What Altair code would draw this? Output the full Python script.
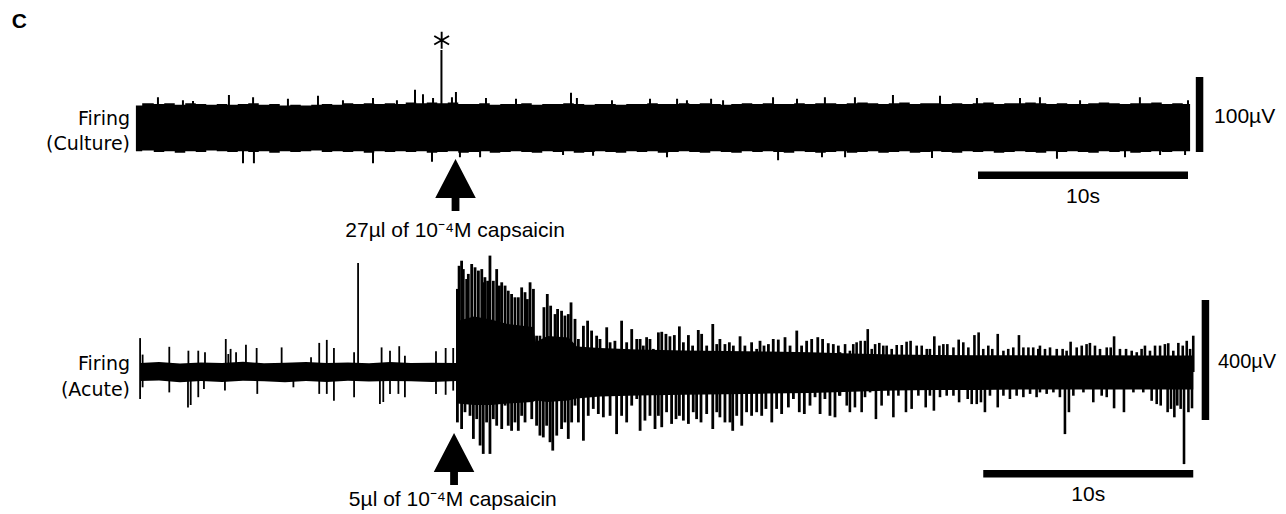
import altair as alt
import pandas as pd

# ---------------- values (time in s, amplitude in µV) ----------------
# Top trace (culture): envelope of the dense noise band
TOP_ENV_T = [-0.1, 0.5, 1.0, 1.5, 2.0, 2.5, 3.0, 3.5, 4.0, 4.5,
             5.0, 5.5, 6.0, 6.5, 7.0, 7.5, 8.0, 8.5, 9.0, 9.5,
             10.0, 10.5, 11.0, 11.5, 12.0, 12.5, 13.0, 13.5, 14.0, 14.5,
             15.0, 15.5, 16.0, 16.5, 17.0, 17.5, 18.0, 18.5, 19.0, 19.5,
             20.0, 20.5, 21.0, 21.5, 22.0, 22.5, 23.0, 23.5, 24.0, 24.5,
             25.0, 25.5, 26.0, 26.5, 27.0, 27.5, 28.0, 28.5, 29.0, 29.5,
             30.0, 30.5, 31.0, 31.5, 32.0, 32.5, 33.0, 33.5, 34.0, 34.5,
             35.0, 35.5, 36.0, 36.5, 37.0, 37.5, 38.0, 38.5, 39.0, 39.5,
             40.0, 40.5, 41.0, 41.5, 42.0, 42.5, 43.0, 43.5, 44.0, 44.5,
             45.0, 45.5, 46.0, 46.5, 47.0, 47.5, 48.0, 48.5, 49.0, 49.5,
             50.0, 50.1]
TOP_ENV_HI = [28, 31, 30, 31, 29, 31, 30, 29, 30, 29,
              30, 31, 29, 30, 28, 29, 28, 29, 30, 29,
              31, 30, 31, 30, 31, 30, 32, 31, 32, 31,
              32, 30, 30, 31, 29, 30, 30, 31, 29, 30,
              30, 31, 30, 29, 30, 30, 29, 30, 30, 31,
              30, 30, 31, 30, 31, 30, 29, 30, 31, 30,
              31, 30, 30, 31, 30, 31, 31, 30, 31, 32,
              31, 30, 31, 32, 30, 31, 31, 30, 31, 30,
              31, 32, 30, 31, 31, 32, 31, 30, 31, 30,
              30, 31, 32, 31, 30, 31, 31, 32, 30, 31,
              30, 30]
TOP_ENV_LO = [-33, -32, -34, -33, -35, -33, -34, -32, -33, -34,
              -33, -34, -33, -35, -33, -34, -33, -32, -34, -33,
              -34, -33, -35, -33, -34, -33, -34, -33, -35, -34,
              -33, -35, -34, -33, -35, -34, -33, -34, -35, -33,
              -34, -33, -35, -34, -33, -34, -35, -33, -34, -33,
              -35, -34, -33, -34, -35, -33, -34, -35, -33, -34,
              -33, -34, -35, -33, -34, -35, -34, -33, -35, -34,
              -33, -35, -34, -33, -35, -34, -33, -34, -35, -33,
              -34, -33, -35, -34, -33, -34, -35, -33, -34, -33,
              -34, -35, -33, -34, -33, -35, -34, -33, -34, -33,
              -33, -33]
# Top trace: individual spikes (t, µV)
TOP_UP = [(0.95, 39), (2.14, 35), (2.62, 34), (4.33, 42), (5.48, 39), (7.14, 37),
          (8.57, 41), (9.76, 35), (11.19, 38), (12.33, 35), (13.19, 49), (13.57, 43),
          (14.05, 38), (14.45, 102), (14.95, 39), (15.14, 46), (16.57, 38), (18.0, 37),
          (20.62, 45), (20.9, 38), (22.57, 35), (24.38, 37), (25.67, 37), (26.14, 35),
          (27.29, 37), (27.86, 35), (30.24, 39), (31.38, 37), (32.71, 39), (34.14, 39),
          (35.95, 42), (38.19, 41), (39.95, 38), (42.0, 38), (42.95, 39), (44.86, 35),
          (47.71, 39), (50.0, 35)]
TOP_DOWN = [(5.0, -49), (5.52, -49), (11.19, -49), (14.0, -47), (15.33, -41), (16.29, -41),
            (20.24, -38), (21.67, -39), (25.19, -41), (30.48, -45), (32.57, -41), (33.67, -41),
            (37.81, -42), (43.76, -43), (47.0, -41), (48.67, -38), (49.86, -38)]

# Bottom trace (acute): solid core band (t, upper, lower)
BOT_CORE = [(0.1, 30, -30), (1, 33, -28), (2, 28, -34), (3, 32, -30), (4, 30, -33),
            (5, 34, -29), (6, 29, -31), (7, 31, -34), (8, 33, -30), (9, 30, -33),
            (10, 32, -29), (11, 29, -32), (12, 33, -30), (13, 30, -31), (14, 31, -33),
            (15.17, 30, -30), (15.2, 170, -105), (16.0, 185, -110), (16.8, 175, -110),
            (17.6, 160, -105), (18.8, 150, -100), (18.95, 100, -95), (19.5, 120, -100),
            (20.5, 115, -95), (20.9, 85, -88), (22.0, 80, -82), (23.8, 75, -78),
            (26, 72, -76), (28, 70, -74), (30, 68, -72), (32, 66, -70), (34, 62, -66),
            (36, 58, -62), (38, 57, -60), (40, 56, -60), (42, 56, -58), (44, 55, -58),
            (46, 56, -58), (48, 55, -58), (50.25, 55, -58)]
# Bottom trace: upward spikes (t, µV)
BOT_UP_PRE = [(0.1, 113), (0.22, 58), (1.49, 84), (2.40, 71), (2.87, 71), (3.19, 66), (4.18, 110),
              (4.30, 60), (4.41, 77), (4.67, 66), (5.14, 91), (5.65, 80), (6.84, 82), (8.24, 49),
              (8.63, 97), (8.99, 107), (9.33, 80), (10.29, 66), (10.48, 363), (11.60, 82),
              (12.0, 71), (12.44, 86), (12.71, 54), (14.19, 69), (14.65, 80), (15.01, 80)]
BOT_UP_BURST = [(15.21, 277), (15.29, 354), (15.41, 371), (15.49, 343), (15.65, 310), (15.73, 327),
                (15.89, 360), (16.05, 349), (16.21, 338), (16.37, 343), (16.44, 299), (16.52, 316),
                (16.65, 304), (16.76, 388), (16.92, 304), (17.08, 343), (17.21, 288), (17.32, 299),
                (17.48, 288), (17.63, 271), (17.79, 260), (17.95, 249), (18.11, 249), (18.27, 282),
                (18.43, 266), (18.54, 243), (18.67, 299), (18.83, 277), (18.98, 121), (19.14, 121),
                (19.33, 216), (19.49, 260), (19.65, 221), (19.86, 193), (19.98, 210), (20.17, 204),
                (20.33, 188), (20.49, 193), (20.62, 232), (20.81, 177), (20.97, 110), (21.21, 154),
                (21.41, 171), (21.60, 138), (21.84, 121), (22.00, 110), (22.32, 149), (22.48, 99),
                (22.71, 104), (23.03, 171), (23.27, 99), (23.51, 143), (23.75, 110)]
BOT_UP_MID = [(23.91, 110), (24.06, 88), (24.22, 116), (24.38, 110), (24.54, 77), (24.78, 132),
              (24.94, 134), (25.14, 127), (25.33, 119), (25.54, 123), (25.78, 152), (25.97, 99),
              (26.21, 123), (26.41, 88), (26.68, 140), (26.84, 127), (27.08, 88), (27.37, 160),
              (27.56, 93), (27.71, 110), (27.95, 93), (28.16, 99), (28.35, 88), (28.67, 119),
              (28.90, 88), (29.22, 99), (29.46, 77), (29.62, 104), (29.81, 88), (30.02, 93),
              (30.25, 110), (30.49, 108), (30.81, 116), (31.05, 88), (31.37, 138), (31.60, 88),
              (31.84, 104), (32.08, 110), (32.37, 116), (32.60, 110), (32.87, 96), (33.11, 93),
              (33.35, 88)]
BOT_UP_LATE = [(33.43, 66), (33.67, 93), (33.90, 71), (34.06, 93), (34.22, 99), (34.41, 104),
               (34.62, 104), (34.75, 143), (34.94, 77), (35.10, 93), (35.30, 97), (35.49, 88),
               (35.65, 88), (35.89, 77), (36.13, 90), (36.37, 90), (36.60, 101), (36.79, 104),
               (37.08, 88), (37.32, 88), (37.56, 77), (37.71, 77), (37.92, 119), (38.16, 88),
               (38.35, 93), (38.54, 93), (38.83, 82), (39.08, 108), (39.30, 99), (39.54, 82),
               (39.83, 123), (40.03, 132), (40.25, 77), (40.49, 88), (40.68, 77), (40.94, 127),
               (41.21, 71), (41.44, 77), (41.68, 82), (41.95, 123), (42.16, 82), (42.40, 82),
               (42.63, 82), (42.87, 77), (42.95, 88), (43.19, 77), (43.43, 82), (43.75, 77),
               (44.03, 77), (44.22, 71), (44.41, 101), (44.70, 82), (44.94, 88), (45.17, 93),
               (45.33, 97), (45.57, 88), (45.81, 77), (46.13, 82), (46.32, 82), (46.48, 119),
               (46.76, 77), (47.05, 77), (47.32, 71), (47.56, 66), (47.79, 77), (47.95, 88),
               (48.19, 71), (48.43, 88), (48.67, 88), (48.90, 93), (49.06, 96), (49.30, 71),
               (49.54, 97), (49.75, 88), (49.94, 104), (50.10, 77), (50.25, 121)]
# Bottom trace: downward spikes (t, µV)
BOT_DN_PRE = [(0.1, -90), (0.22, -51), (1.49, -68), (2.38, -118), (2.51, -110), (2.87, -84),
              (3.14, -57), (4.14, -62), (5.68, -73), (7.40, -51), (8.63, -73), (8.99, -73),
              (9.33, -96), (10.29, -84), (11.52, -107), (11.68, -100), (12.0, -73), (12.40, -73),
              (12.71, -84), (14.19, -73), (14.65, -76), (15.01, -62)]
BOT_DN_BURST = [(15.21, -168), (15.41, -190), (15.57, -134), (15.81, -146), (15.97, -223),
                (16.13, -157), (16.29, -245), (16.44, -273), (16.60, -168), (16.76, -273),
                (16.92, -157), (17.08, -179), (17.32, -190), (17.48, -112), (17.63, -179),
                (17.79, -196), (17.95, -168), (18.11, -196), (18.27, -146), (18.43, -168),
                (18.59, -96), (18.75, -157), (18.98, -179), (19.14, -212), (19.30, -218),
                (19.46, -179), (19.62, -234), (19.75, -262), (19.94, -212), (20.17, -190),
                (20.33, -168), (20.49, -223), (20.65, -168), (20.81, -112), (20.97, -168),
                (21.21, -229), (21.44, -146), (21.68, -123), (21.92, -140), (22.16, -151),
                (22.48, -146), (22.79, -207), (23.03, -146), (23.27, -168), (23.51, -112),
                (23.75, -90)]
BOT_DN_MID = [(23.91, -196), (24.14, -162), (24.38, -146), (24.62, -190), (24.78, -146),
              (24.94, -184), (25.17, -134), (25.41, -173), (25.62, -157), (25.78, -146),
              (25.97, -162), (26.21, -173), (26.44, -134), (26.60, -157), (26.81, -168),
              (27.08, -140), (27.37, -190), (27.56, -134), (27.71, -151), (27.95, -168),
              (28.19, -168), (28.32, -196), (28.51, -146), (28.75, -179), (28.98, -134),
              (29.22, -146), (29.46, -134), (29.70, -146), (29.90, -123), (30.18, -168),
              (30.41, -123), (30.65, -140), (30.97, -118), (31.21, -90), (31.49, -134),
              (31.73, -140), (32.00, -112), (32.24, -84), (32.48, -140), (32.71, -90),
              (32.95, -146), (33.19, -151), (33.40, -79)]
BOT_DN_LATE = [(33.43, -79), (33.75, -112), (33.90, -134), (34.14, -118), (34.46, -134),
               (34.62, -84), (34.86, -68), (35.14, -157), (35.41, -112), (35.73, -79),
               (35.97, -151), (36.21, -79), (36.57, -134), (36.84, -123), (37.16, -79),
               (37.51, -118), (37.71, -79), (37.90, -129), (38.19, -84), (38.51, -79),
               (38.83, -79), (39.10, -101), (39.51, -90), (39.70, -107), (39.94, -107),
               (40.14, -101), (40.33, -134), (40.57, -79), (40.94, -118), (41.21, -79),
               (41.52, -90), (41.84, -79), (42.16, -84), (42.48, -73), (42.79, -84),
               (42.95, -68), (43.27, -73), (43.59, -68), (43.90, -84), (44.14, -207),
               (44.33, -134), (44.54, -79), (45.02, -68), (45.49, -101), (45.89, -79),
               (46.13, -84), (46.48, -121), (46.95, -134), (47.40, -68), (47.87, -68),
               (48.27, -96), (48.51, -107), (48.70, -112), (49.03, -134), (49.19, -123),
               (49.35, -151), (49.49, -112), (49.65, -123), (49.81, -307), (50.02, -134),
               (50.19, -121)]

# Scale bars and annotation text
SCALE_SECONDS = 10
TOP_SCALE_UV = 100
BOT_SCALE_UV = 400
TOP_LABEL = ["Firing", "(Culture)"]
BOT_LABEL = ["Firing", "(Acute)"]
TOP_DRUG = "27µl of 10⁻⁴M capsaicin"
BOT_DRUG = "5µl of 10⁻⁴M capsaicin"
PANEL_LETTER = "C"

# ---------------- layout (scales) ----------------
W = 1270
H_TOP, H_BOT = 246, 254
X_DOMAIN = [-6.1905, 54.2857]
TOP_Y = [-170, 158]
BOT_Y = [-466.67, 380]

ARROW = "M0,-1L0.78,0.5L0.15,0.5L0.15,1L-0.15,1L-0.15,0.5L-0.78,0.5Z"
STAR = "M0,-1L0,1M-0.87,-0.5L0.87,0.5M-0.87,0.5L0.87,-0.5"
INK = "#000000"


def xe(f="t"):
    return alt.X(f"{f}:Q", scale=alt.Scale(domain=X_DOMAIN, nice=False, zero=False), axis=None)


def ye(f, dom):
    return alt.Y(f"{f}:Q", scale=alt.Scale(domain=dom, nice=False, zero=False), axis=None)


def spikes(pairs, dom, sw):
    df = pd.DataFrame(pairs, columns=["t", "v"])
    return alt.Chart(df).mark_rule(color=INK, strokeWidth=sw).encode(
        x=xe(), y=ye("v", dom), y2=alt.datum(0))


def texts(rows, dom, font, size, align, weight="normal"):
    df = pd.DataFrame(rows, columns=["t", "v", "s"])
    return alt.Chart(df).mark_text(font=font, fontSize=size, align=align, baseline="alphabetic",
                                   fontWeight=weight, color=INK).encode(
        x=xe(), y=ye("v", dom), text="s:N")


def bars(rows, dom):
    df = pd.DataFrame(rows, columns=["x", "x2", "y", "y2"])
    return alt.Chart(df).mark_rule(color=INK, strokeWidth=7.5).encode(
        x=xe("x"), x2="x2:Q", y=ye("y", dom), y2="y2:Q")


def arrow(t, v, dom):
    df = pd.DataFrame({"t": [t], "v": [v]})
    return alt.Chart(df).mark_point(shape=ARROW, size=2704, filled=True, color=INK,
                                    opacity=1, strokeWidth=0).encode(x=xe(), y=ye("v", dom))


# ---------------- top panel ----------------
top_env = pd.DataFrame({"t": TOP_ENV_T, "hi": TOP_ENV_HI, "lo": TOP_ENV_LO})
top_band = alt.Chart(top_env).mark_area(color=INK, interpolate="step", opacity=1).encode(
    x=xe(), y=ye("hi", TOP_Y), y2="lo:Q")

star = alt.Chart(pd.DataFrame({"t": [14.46], "v": [115]})).mark_point(
    shape=STAR, size=290, filled=False, color=INK, opacity=1, strokeWidth=1.9).encode(
    x=xe(), y=ye("v", TOP_Y))

top = alt.layer(
    top_band,
    spikes(TOP_UP, TOP_Y, 2.0),
    spikes(TOP_DOWN, TOP_Y, 2.0),
    bars([(50.55, 50.55, -34, -34 + TOP_SCALE_UV), (40.0, 40.0 + SCALE_SECONDS, -65, -65)], TOP_Y),
    arrow(15.12, -78, TOP_Y),
    star,
    texts([(-6.01, 131, PANEL_LETTER)], TOP_Y, "Liberation Sans", 21, "left", "bold"),
    texts([(-0.38, 2, TOP_LABEL[0]), (-0.38, -31.3, TOP_LABEL[1])], TOP_Y, "DejaVu Sans", 19, "right"),
    texts([(51.24, 4.7, f"{TOP_SCALE_UV}µV")], TOP_Y, "Liberation Sans", 21, "left"),
    texts([(45.0, -102.4, f"{SCALE_SECONDS}s"), (15.10, -147.3, TOP_DRUG)], TOP_Y,
          "Liberation Sans", 21, "center"),
).properties(width=W, height=H_TOP)

# ---------------- bottom panel ----------------
bot_core = pd.DataFrame(BOT_CORE, columns=["t", "hi", "lo"])
bot_band = alt.Chart(bot_core).mark_area(color=INK, interpolate="linear", opacity=1).encode(
    x=xe(), y=ye("hi", BOT_Y), y2="lo:Q")

bot = alt.layer(
    bot_band,
    spikes(BOT_UP_PRE, BOT_Y, 1.8),
    spikes(BOT_DN_PRE, BOT_Y, 1.8),
    spikes(BOT_UP_BURST, BOT_Y, 2.8),
    spikes(BOT_DN_BURST, BOT_Y, 2.8),
    spikes(BOT_UP_MID, BOT_Y, 2.8),
    spikes(BOT_DN_MID, BOT_Y, 2.8),
    spikes(BOT_UP_LATE, BOT_Y, 2.6),
    spikes(BOT_DN_LATE, BOT_Y, 2.6),
    bars([(50.83, 50.83, -160, -160 + BOT_SCALE_UV), (40.25, 40.25 + SCALE_SECONDS, -339, -339)], BOT_Y),
    arrow(15.05, -290, BOT_Y),
    texts([(-0.38, 6.7, BOT_LABEL[0]), (-0.38, -79, BOT_LABEL[1])], BOT_Y, "DejaVu Sans", 19, "right"),
    texts([(54.2, 13.3, f"{BOT_SCALE_UV}µV")], BOT_Y, "Liberation Sans", 20, "right"),
    texts([(45.25, -431, f"{SCALE_SECONDS}s"), (14.99, -448, BOT_DRUG)], BOT_Y,
          "Liberation Sans", 21, "center"),
).properties(width=W, height=H_BOT)

chart = alt.vconcat(top, bot, spacing=0, padding=0, background="white").configure_view(stroke=None)
chart.save("out.html", embed_options={"renderer": "svg", "actions": False})
